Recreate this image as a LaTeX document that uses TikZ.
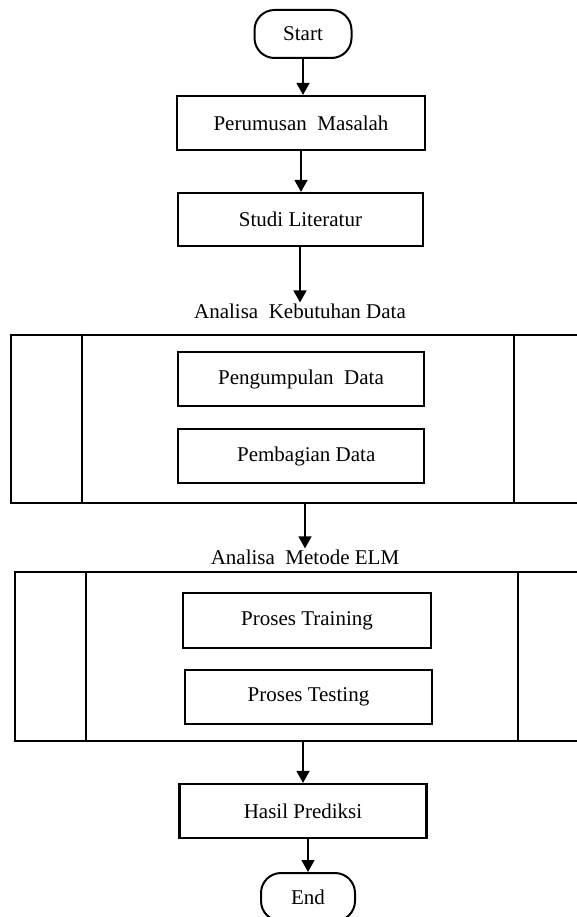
\documentclass[tikz,border=0pt]{standalone}
\usepackage{fontspec}
\setmainfont{Liberation Serif}
\usetikzlibrary{arrows.meta}
\begin{document}
\begin{tikzpicture}[x=1pt,y=-1pt,
  every node/.style={font=\fontsize{21}{25}\selectfont},
  procbox/.style={draw,line width=2.2pt,rectangle,inner sep=0pt},
  termbox/.style={draw,line width=2pt,rectangle,rounded corners=20pt,inner sep=0pt},
  groupbox/.style={draw,line width=2.2pt,rectangle,inner sep=0pt},
  grouplabel/.style={inner sep=1pt},
  arr/.style={line width=1.5pt,-{Triangle[length=12pt,width=13pt]}},
  sep/.style={line width=2pt}]
\useasboundingbox (0,0) rectangle (577,917);
\node[termbox,minimum width=97pt,minimum height=48pt] (start) at (303,34) {Start};
\node[procbox,minimum width=248pt,minimum height=54pt] (perum) at (301,123) {Perumusan\ \ Masalah};
\node[procbox,minimum width=245pt,minimum height=53pt] (studi) at (300.5,219.5) {Studi Literatur};
\node[grouplabel] (lab1) at (300,311) {Analisa\ \ Kebutuhan\ Data};
\node[groupbox,minimum width=574pt,minimum height=168pt] (grp1) at (298,419) {};
\draw[sep] ([xshift=72pt]grp1.north west) -- ([xshift=72pt]grp1.south west);
\draw[sep] ([xshift=-72pt]grp1.north east) -- ([xshift=-72pt]grp1.south east);
\node[procbox,minimum width=246pt,minimum height=54pt] (kumpul) at (301,379) {Pengumpulan\ \ Data};
\node[procbox,minimum width=246pt,minimum height=54pt] (bagi) at (301,456) {\ \ Pembagian\ Data};
\node[grouplabel] (lab2) at (305,557) {Analisa\ \ Metode ELM};
\node[groupbox,minimum width=574pt,minimum height=169pt] (grp2) at (302,656.5) {};
\draw[sep] ([xshift=72pt]grp2.north west) -- ([xshift=72pt]grp2.south west);
\draw[sep] ([xshift=-72pt]grp2.north east) -- ([xshift=-72pt]grp2.south east);
\node[procbox,minimum width=248pt,minimum height=55pt] (train) at (307,620.5) {Proses Training};
\node[procbox,minimum width=247pt,minimum height=54pt] (test) at (308.5,697) {Proses Testing};
\node[procbox,minimum width=247pt,minimum height=54pt] (hasil) at (303,811) {Hasil\ Prediksi};
\node[termbox,minimum width=94pt,minimum height=48pt] (end) at (308,897) {End};
\draw[arr] (start.south) -- (start.south |- perum.north);
\draw[arr] (perum.south) -- (perum.south |- studi.north);
\draw[arr] (studi.south -| lab1) -- (lab1.north);
\draw[arr] (grp1.south -| lab2) -- (lab2.north);
\draw[arr] (grp2.south -| hasil) -- (hasil.north);
\draw[arr] (hasil.south -| end) -- (end.north);
\end{tikzpicture}
\end{document}
